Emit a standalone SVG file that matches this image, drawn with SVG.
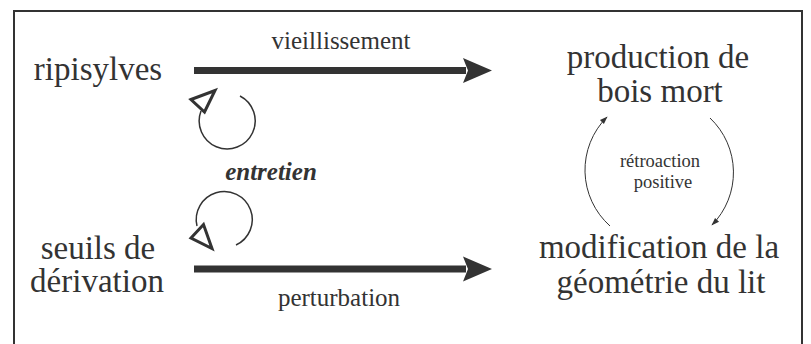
<svg xmlns="http://www.w3.org/2000/svg" width="811" height="344" viewBox="0 0 811 344">
<style>
.big{font-size:33px}
.mid{font-size:25px}
.sm{font-size:18.5px}
.bi{font-size:25px;font-weight:bold;font-style:italic}
.thick{stroke:#333;stroke-width:7;fill:none}
.head{fill:#333}
.loop{stroke:#333;stroke-width:1.5;fill:none}
.ohead{stroke:#333;stroke-width:3;fill:#fff;stroke-linejoin:miter}
.thin{stroke:#333;stroke-width:1;fill:none}
</style>
<defs>
<marker id="sa" viewBox="0 0 10 10" refX="9" refY="5" markerWidth="8" markerHeight="8" markerUnits="userSpaceOnUse" orient="auto">
<path d="M0,1.5 L10,5 L0,8.5 Z" fill="#333"/>
</marker>
</defs>
<rect x="14" y="11" width="788" height="350" fill="#fff" stroke="#333" stroke-width="2"/>
<g font-family="Liberation Serif, Times New Roman, serif" fill="#333" text-anchor="middle">
<g id="ripisylves"><text class="big" x="98" y="80">ripisylves</text></g>
<g id="seuils"><text class="big" x="98" y="259">seuils de</text><text class="big" x="97" y="292">dérivation</text></g>
<g id="production"><text class="big" x="658" y="68">production de</text><text class="big" x="660" y="102">bois mort</text></g>
<g id="modification"><text class="big" x="659" y="258">modification de la</text><text class="big" x="661" y="293">géométrie du lit</text></g>
<g id="connectors">
<line class="thick" x1="194" y1="70.5" x2="466" y2="70.5"/>
<path class="head" d="M463,58 L492,70.5 L463,83 L468,70.5 Z"/>
<text class="mid" x="341" y="49">vieillissement</text>
<line class="thick" x1="194" y1="269" x2="466" y2="269"/>
<path class="head" d="M463,256.5 L492,269 L463,281.5 L468,269 Z"/>
<text class="mid" x="339" y="306">perturbation</text>
<path class="loop" d="M240,96 A28 28 0 1 1 201,111"/>
<polygon class="ohead" points="191,99.5 215,90.5 204.5,112"/>
<path class="loop" d="M236,245 A28 28 0 1 0 197,226"/>
<polygon class="ohead" points="191,238 203.5,224.5 212,248.5"/>
<text class="bi" x="271" y="180">entretien</text>
<path class="thin" d="M610,226 A75 75 0 0 1 607,117" marker-end="url(#sa)"/>
<path class="thin" d="M710,118 A75 75 0 0 1 712,225" marker-end="url(#sa)"/>
<text class="sm" x="660" y="167">rétroaction</text>
<text class="sm" x="663" y="188">positive</text>
</g>
</g>
</svg>
